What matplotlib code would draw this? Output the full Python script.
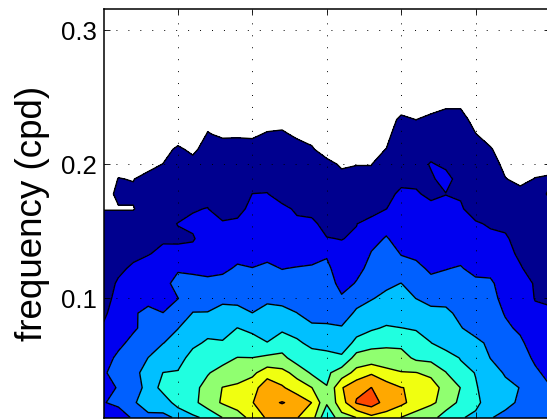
#! /usr/bin/python3

import numpy as np
import matplotlib
matplotlib.use('Agg')
import matplotlib.pyplot as plt

plt.rcParams['font.family'] = ['Liberation Sans', 'DejaVu Sans']
plt.rcParams['lines.scale_dashes'] = False

# ----
# DATA
# ----
# one list per position on the x axis, from the lowest frequency row upwards
power = [
    [2.6, 2.95, 2.6, 2.97, 2.7, 2.4, 2.1, 1.85, 1.7, 1.7, 1.55, 1.5, 1.45, 1.3, .97, .88, .8, .7, .6, .5, .5, .5],
    [2.46, 3.23, 3.08, 3.1, 3.15, 2.83, 2.63, 2.43, 2.25, 2.08, 1.875, 1.72, 1.55, 1.2, .98, 1.06, 1.01, .9, .8, .6, .5, .5],
    [3.14, 3.85, 3.6, 3.7, 3.4, 3.2, 2.9, 2.91, 2.6, 2.4, 2.1, 1.85, 1.6, 1.2, .98, 1.06, .987, .85, .7, .6, .5, .5],
    [3.7, 4.6, 4.27, 4.4, 4.01, 3.6, 3.24, 3.2, 2.77, 2.6, 2.3, 1.96, 1.8, 1.6, 1.2, 1.3, 1.15, .85, .7, .6, .5, .5],
    [3.84, 4.36, 5.39, 5.01, 4.5, 3.98, 3.5, 3.01, 2.75, 2.55, 2.35, 2.15, 1.92, 1.7, 1.4, 1.3, 1.2, 1.01, .8, .6, .5, .5],
    [4.1, 5.46, 5.5, 5.06, 4.68, 4.3, 3.98, 3.45, 2.98, 3.47, 2.83, 2.3, 1.83, 2.03, 1.6, 1.5, 1.4, 1.3, 1.1, .68, .5, .5],
    [4.85, 5.68, 5.85, 5.7, 5.3, 4.82, 4.4, 4.03, 3.6, 3.2, 2.87, 2.18, 1.95, 2.1, 1.96, 1.6, 1.4, 1.2, .87, .7, .5, .5],
    [5.18, 6.57, 6.18, 5.96, 5.6, 5.12, 4.71, 4.03, 3.7, 3.25, 2.69, 2.4, 2.28, 2.15, 2.02, 1.8, 1.6, 1.4, 1.25, 1.03, .86, .7],
    [6.02, 7.1, 7.03, 6.2, 5.8, 5.05, 4.77, 4.3, 3.8, 3.25, 2.84, 2.6, 2.4, 2.1, 1.6, 1.5, 1.4, 1.3, 1.2, .93, .75, .6],
    [6.6, 7.43, 7.3, 6.19, 6.02, 5.5, 5.01, 4.4, 3.65, 3.3, 3.1, 2.76, 2.5, 2.2, 1.67, 1.55, 1.45, 1.35, 1.2, .94, .75, .6],
    [7.3, 7.95, 7.5, 6.8, 6.01, 5.35, 4.79, 4.01, 3.6, 3.3, 3.01, 2.85, 2.7, 2.5, 2.3, 2.01, 1.6, 1.4, 1.2, .92, .75, .6],
    [8.15, 8.77, 8.76, 7.49, 6.21, 5.02, 4.7, 4.25, 3.85, 3.5, 3.15, 2.79, 2.65, 2.5, 2.25, 2.03, 1.7, 1.5, 1.35, 1.05, .77, .6],
    [8.4, 9.05, 8.14, 7.26, 6.3, 5.39, 4.86, 4.3, 3.69, 3.3, 2.98, 2.8, 2.6, 2.4, 2.2, 1.64, 1.55, 1.45, 1.35, 1.1, .76, .6],
    [8.04, 8.75, 7.41, 6.73, 5.45, 5.12, 4.71, 4.01, 3.7, 3.35, 3.05, 2.6, 2.4, 2.15, 1.88, 1.7, 1.6, 1.5, 1.25, .89, .75, .6],
    [7.47, 7.98, 7.01, 5.85, 5.3, 4.82, 4.2, 3.61, 3.45, 3.3, 3.1, 2.68, 2.45, 2.15, 1.78, 1.65, 1.5, 1.35, 1.05, .84, .7, .55],
    [5.1, 6.15, 6.03, 5.84, 5.5, 4.44, 4.1, 3.77, 3.6, 3.4, 3.2, 2.9, 2.03, 1.76, 1.6, 1.5, 1.35, 1.15, .76, .65, .55, .5],
    [6.7, 7.57, 7.93, 6.43, 5.26, 4.18, 4.05, 3.7, 3.1, 2.73, 2.5, 2.2, 1.98, 1.8, 1.6, 1.4, 1.15, .93, .8, .65, .55, .5],
    [7.01, 9.1, 8.69, 7.34, 6.33, 5.38, 4.43, 4.1, 3.78, 3.05, 2.8, 2.6, 2.1, 1.98, 1.5, 1.3, 1.1, .99, .85, .7, .6, .5],
    [7.75, 9.5, 9.01, 7.88, 6.34, 5.77, 4.85, 4.3, 3.96, 3.5, 3.2, 3.03, 2.84, 2.4, 1.55, 1.45, 1.1, .99, .85, .7, .6, .5],
    [7.6, 8.6, 8.53, 7.26, 6.46, 5.78, 5.12, 4.45, 4.15, 3.87, 3.6, 3.4, 3.04, 2.82, 1.99, 1.7, 1.45, 1.25, 1.01, .8, .65, .5],
    [6.98, 8.25, 8.02, 7.05, 6.4, 5.75, 5.01, 4.6, 4.3, 4.01, 3.3, 2.96, 2.8, 2.6, 2.4, 2.2, 1.73, 1.6, 1.5, 1.4, 1.15, .65],
    [6.6, 7.56, 7.9, 7.03, 5.8, 5.3, 4.94, 4.4, 3.99, 3.6, 3.3, 2.75, 2.6, 2.4, 2.2, 2.06, 1.88, 1.7, 1.5, 1.25, .99, .7],
    [6.55, 7.1, 7.5, 6.75, 5.72, 5.02, 4.6, 4.2, 3.77, 3.3, 2.81, 2.6, 2.45, 2.3, 2.15, 1.88, 1.9, 2.06, 1.7, 1.5, 1.2, .66],
    [5.3, 6.8, 6.6, 6.03, 5.5, 4.52, 4.4, 4.2, 3.72, 3.2, 2.98, 2.85, 2.7, 2.5, 2.26, 1.98, 2.25, 1.85, 1.7, 1.5, 1.2, .92],
    [5.1, 5.67, 5.98, 5.3, 4.94, 4.6, 4.05, 3.77, 3.6, 3.4, 3.05, 2.8, 2.6, 2.4, 2.1, 1.91, 1.7, 1.55, 1.4, 1.3, 1.2, .92],
    [4.75, 5.3, 5.07, 4.97, 4.6, 4.25, 3.63, 3.5, 3.35, 3.15, 2.8, 2.6, 2.4, 2.1, 1.6, 1.5, 1.4, 1.3, 1.15, 1.02, .8, .6],
    [4.05, 4.4, 4.6, 4.35, 3.98, 3.8, 3.6, 3.4, 3.2, 3.1, 2.82, 2.5, 2.2, 1.9, 1.7, 1.5, 1.4, 1.25, 1.05, .76, .6, .5],
    [3.77, 4.23, 4.2, 3.92, 3.6, 3.4, 3.15, 2.94, 2.8, 2.7, 2.55, 2.35, 2.1, 1.84, 1.6, 1.3, 1.02, .85, .7, .6, .5, .5],
    [3.5, 3.87, 3.98, 3.7, 3.4, 3.15, 2.86, 2.7, 2.55, 2.35, 2.1, 1.8, 1.7, 1.6, 1.4, 1.15, .87, .8, .7, .6, .5, .5],
    [3.2, 3.5, 3.6, 3.15, 2.85, 2.6, 2.4, 2.18, 1.96, 1.93, 1.54, 1.5, 1.45, 1.4, 1.3, 1.15, 1.02, .8, .7, .6, .5, .5],
    [3.02, 3.1, 3.05, 2.75, 2.5, 2.3, 2.15, 2.05, 1.95, 1.8, 1.5, 1.4, 1.35, 1.3, 1.1, .95, 1.05, .87, .7, .6, .5, .5],
]
x_vals = np.arange(31)/5
freq = np.arange(1, 23)/90

levels = [1, 2, 3, 4, 5, 6, 7, 8, 9, 10]
band_colors = ['#00008f', '#0000f0', '#0060ff', '#00c0ff', '#20ffe0',
               '#90ff70', '#f0ff10', '#ffa800', '#ff4800']

y_ticks = [0.1, 0.2, 0.3]
y_ticklabels = ['0.1', '0.2', '0.3']
x_ticks = [1, 2, 3, 4, 5]

# ----
# Plot
# ----
W, H = 547, 419
fig = plt.figure(figsize=(W/100, H/100), dpi=100)
# the right edge of the axes runs slightly past the picture
ax = fig.add_axes([103.5/W, (H - 417.5)/H, 446.5/W, 408.5/H])

Z = np.array(power).T
ax.contourf(x_vals, freq, Z, levels=levels, colors=band_colors)
ax.contour(x_vals, freq, Z, levels=levels[:-1], colors='k', linewidths=1.0, linestyles='solid')

ax.set_xlim(0, 6)
ax.set_ylim(1/90, 0.3157)
ax.set_xticks(x_ticks)
ax.set_xticklabels([])
ax.set_yticks(y_ticks)
ax.set_yticklabels(y_ticklabels, fontsize=18.5)
ax.tick_params(direction='in', top=True, right=True, length=4, width=0.6, pad=5)
ax.set_ylabel('frequency (cpd)', fontsize=26.5, labelpad=8)

ax.set_axisbelow(False)
ax.grid(True, color='k', linewidth=0.7, linestyle=(0, (0.7, 7.9)))
for s in ax.spines.values():
    s.set_linewidth(1.1)

fig.savefig('out.png', dpi=100)
